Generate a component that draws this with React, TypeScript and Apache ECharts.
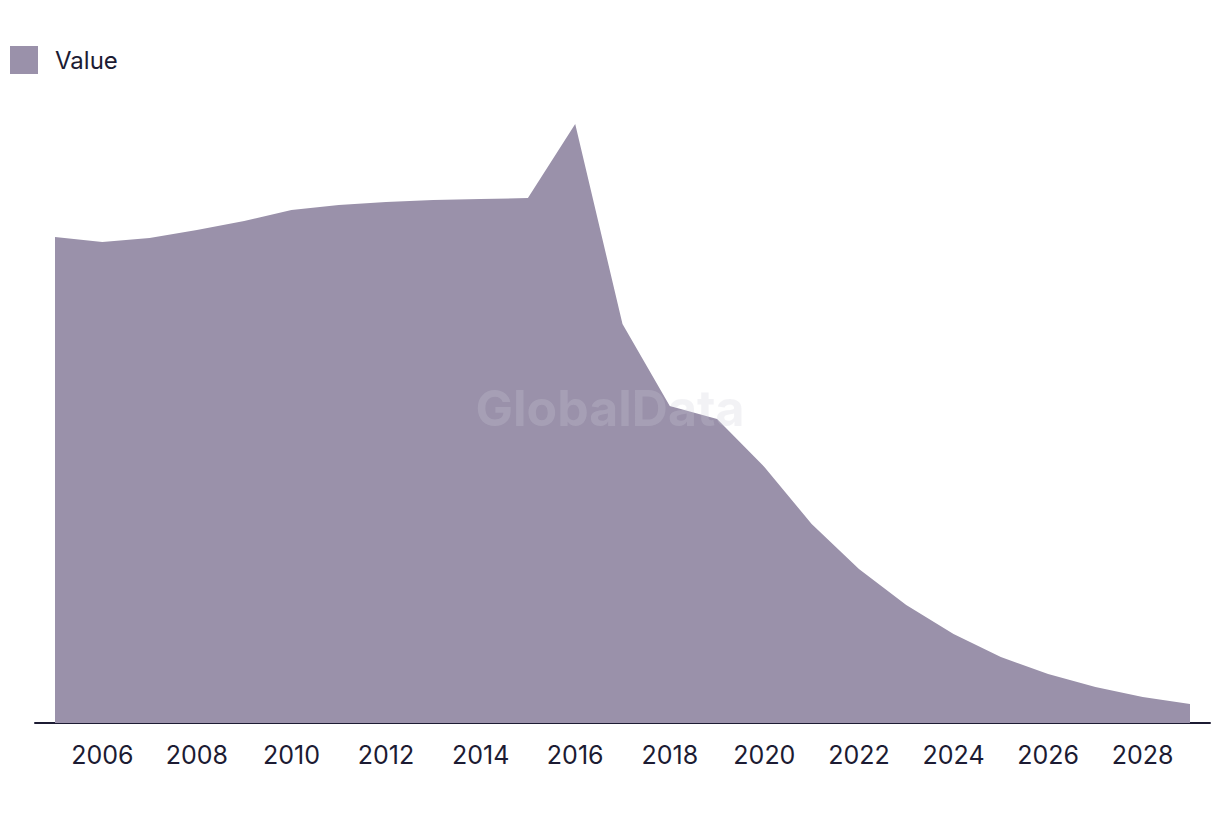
import React, { useEffect, useRef } from "react";
import * as echarts from "echarts";

const years = [2005, 2006, 2007, 2008, 2009, 2010, 2011, 2012, 2013, 2014, 2015, 2016, 2017, 2018, 2019, 2020, 2021, 2022, 2023, 2024, 2025, 2026, 2027, 2028, 2029];
const values = [486, 481, 485, 493, 502, 513, 518, 521, 523, 524, 525, 599, 399, 317, 304, 256, 199, 154, 118, 89, 66, 49, 36, 26, 19];
const labelYears = [2006, 2008, 2010, 2012, 2014, 2016, 2018, 2020, 2022, 2024, 2026, 2028];
const seriesName = "Value";

export default function App() {
  const ref = useRef<HTMLDivElement>(null);
  useEffect(() => {
    document.body.style.margin = "0";
    const chart = echarts.init(ref.current!, null, { renderer: "svg" });
    const font = "Inter, 'Noto Sans', sans-serif";
    chart.setOption({
      animation: false,
      legend: {
        left: 5,
        top: 41,
        itemWidth: 28,
        itemHeight: 28,
        icon: "rect",
        itemGap: 20,
        textStyle: { fontFamily: font, fontSize: 24, color: "#1c1b33", padding: [0, 0, 6, 12] },
        data: [seriesName],
      },
      grid: { left: 35, right: 10, top: 123, bottom: 93 },
      xAxis: {
        type: "value",
        min: 2004.577,
        max: 2029.423,
        splitLine: { show: false },
        axisTick: { show: false },
        axisLine: { show: true, onZero: false, lineStyle: { color: "#1c1b33", width: 2 } },
        axisLabel: {
          customValues: labelYears,
          fontFamily: font,
          fontSize: 25,
          color: "#1c1b33",
          margin: 19,
          formatter: (v: number) => String(v),
        },
      },
      yAxis: {
        type: "value",
        min: 0,
        max: 600,
        show: false,
        splitLine: { show: false },
      },
      graphic: [
        {
          type: "text",
          left: "center",
          top: 383,
          z: 100,
          style: {
            text: "GlobalData",
            fontFamily: font,
            fontWeight: "bold",
            fontSize: 50,
            fill: "rgba(205,205,215,0.25)",
          },
        },
      ],
      series: [
        {
          name: seriesName,
          type: "line",
          data: years.map((y, i) => [y, values[i]]),
          showSymbol: false,
          symbol: "none",
          lineStyle: { width: 0 },
          itemStyle: { color: "#9a91aa" },
          areaStyle: { color: "#9a91aa", opacity: 1 },
        },
      ],
    });
    return () => chart.dispose();
  }, []);
  return <div ref={ref} style={{ width: 1220, height: 816 }} />;
}
